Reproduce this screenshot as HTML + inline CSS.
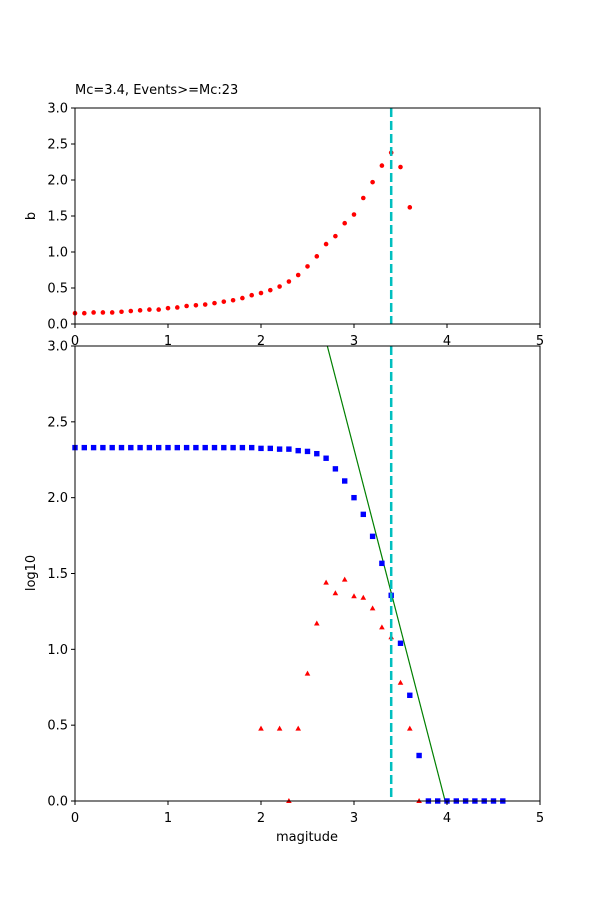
<!DOCTYPE html><html><head><style>body{margin:0;background:#fff}svg text{font-family:"DejaVu Sans","Liberation Sans",sans-serif;font-size:13px;fill:#000}</style></head><body>
<svg id="s" width="600" height="900" xmlns="http://www.w3.org/2000/svg"></svg>
<script>
const s=document.getElementById('s');let h='';
const X=v=>75+v*93, YT=v=>324-v*72, YB=v=>801-v*151.667;
const b=[0.15,0.15,0.16,0.16,0.16,0.17,0.18,0.19,0.2,0.2,0.22,0.23,0.25,0.26,0.27,0.29,0.31,0.33,0.36,0.40,0.43,0.47,0.52,0.59,0.68,0.80,0.94,1.11,1.22,1.40,1.52,1.75,1.97,2.2,2.38,2.18,1.62];
b.forEach((v,i)=>{h+=`<circle cx="${X(i/10)}" cy="${YT(v)}" r="2.3" fill="red"/>`});
h+=`<line x1="${X(3.4)}" y1="108" x2="${X(3.4)}" y2="324" stroke="#00bfbf" stroke-width="2.5" stroke-dasharray="9,4"/>`;
h+=`<rect x="75" y="108" width="465" height="216" fill="none" stroke="#000" stroke-width="1"/>`;
for(let i=0;i<=6;i++){let y=YT(i*0.5);h+=`<line x1="71" x2="75" y1="${y}" y2="${y}" stroke="#000"/><text x="68" y="${y+4.5}" text-anchor="end">${(i*0.5).toFixed(1)}</text>`}
for(let i=0;i<=5;i++){h+=`<line x1="${X(i)}" x2="${X(i)}" y1="324" y2="328" stroke="#000"/><text x="${X(i)}" y="345" text-anchor="middle">${i}</text>`}
h+=`<text x="75" y="94">Mc=3.4, Events&gt;=Mc:23</text>`;
h+=`<text transform="translate(35,216) rotate(-90)" text-anchor="middle">b</text>`;
h+=`<svg x="75" y="346" width="465" height="455" overflow="hidden"><line x1="${X(2.713)-75}" y1="0" x2="${X(3.98)-75}" y2="455" stroke="green" stroke-width="1.2"/></svg>`;
const bl={};for(let i=0;i<20;i++)bl[i]=2.33;
Object.assign(bl,{20:2.325,21:2.325,22:2.32,23:2.32,24:2.31,25:2.305,26:2.29,27:2.26,28:2.19,29:2.11,30:2.0,31:1.89,32:1.745,33:1.567,34:1.356,35:1.04,36:0.697,37:0.3});
for(let i=38;i<=46;i++)bl[i]=0;
for(const k in bl){h+=`<rect x="${X(k/10)-2.7}" y="${YB(bl[k])-2.7}" width="5.4" height="5.4" fill="blue"/>`}
const tr={20:0.477,22:0.477,23:0,24:0.477,25:0.84,26:1.17,27:1.44,28:1.37,29:1.46,30:1.35,31:1.34,32:1.27,33:1.145,34:1.08,35:0.78,36:0.477,37:0};
for(const k in tr){let x=X(k/10),y=YB(tr[k]);h+=`<polygon points="${x},${y-3} ${x-2.8},${y+2} ${x+2.8},${y+2}" fill="red"/>`}
h+=`<line x1="${X(3.4)}" y1="346" x2="${X(3.4)}" y2="801" stroke="#00bfbf" stroke-width="2.5" stroke-dasharray="9,4"/>`;
h+=`<rect x="75" y="346" width="465" height="455" fill="none" stroke="#000" stroke-width="1"/>`;
for(let i=0;i<=6;i++){let y=YB(i*0.5);h+=`<line x1="71" x2="75" y1="${y}" y2="${y}" stroke="#000"/><text x="68" y="${y+4.5}" text-anchor="end">${(i*0.5).toFixed(1)}</text>`}
for(let i=0;i<=5;i++){h+=`<line x1="${X(i)}" x2="${X(i)}" y1="801" y2="805" stroke="#000"/><text x="${X(i)}" y="822" text-anchor="middle">${i}</text>`}
h+=`<text x="307" y="841" text-anchor="middle">magitude</text>`;
h+=`<text transform="translate(35,573) rotate(-90)" text-anchor="middle">log10</text>`;
s.innerHTML=h;
</script></body></html>
